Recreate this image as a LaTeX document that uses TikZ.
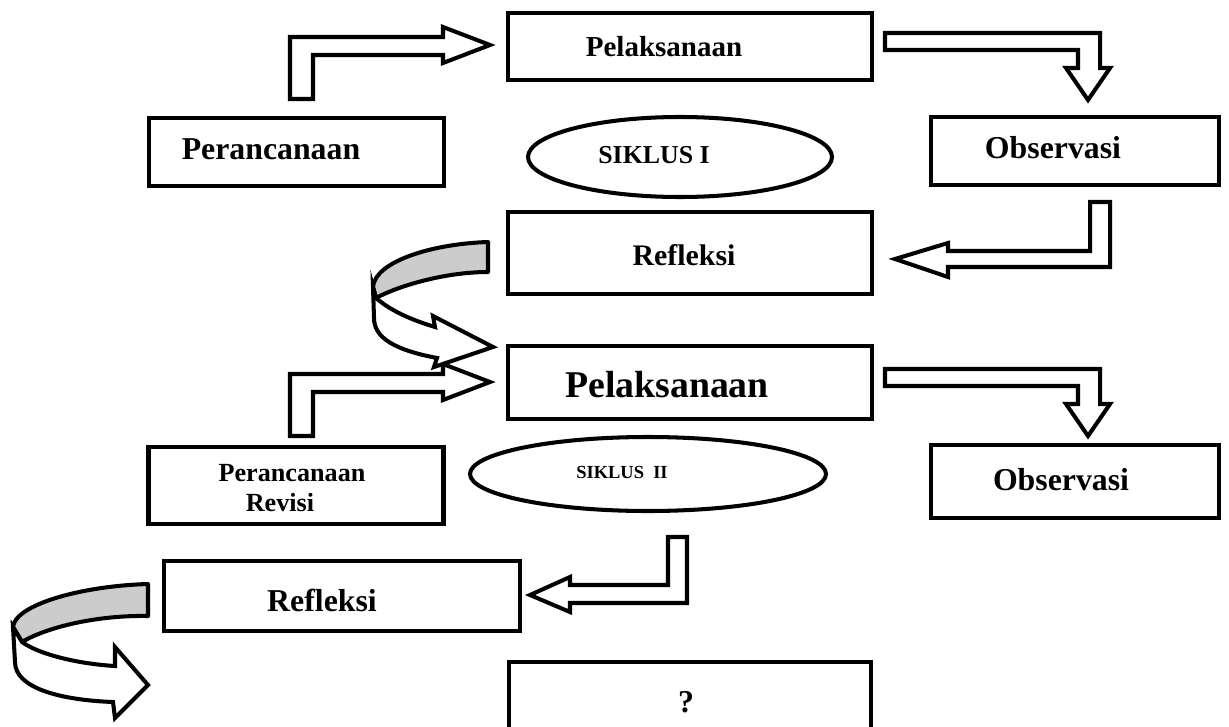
\documentclass[tikz,border=0pt]{standalone}
\usepackage{fontspec}
\setmainfont{Liberation Serif}
\usetikzlibrary{shapes.geometric}
\newcommand{\fsz}[1]{\fontsize{#1}{1.2\dimexpr#1\relax}\selectfont}
\tikzset{
  box/.style={draw, line width=2.8pt, fill=white, inner sep=0pt},
  oval/.style={draw, ellipse, line width=2.3pt, inner sep=0pt},
  lbl/.style={inner sep=0pt, anchor=base, font=\bfseries},
  blockarrow/.style={draw, line width=2.3pt, fill=white, line join=miter},
  backband/.style={draw, line width=2.3pt, fill=gray!40, line join=round},
  frontband/.style={draw, line width=2.3pt, fill=white, line join=miter}
}
\begin{document}
\begin{tikzpicture}[x=0.02cm, y=-0.02cm]
\useasboundingbox (0,0) rectangle (1229,726);

% boxes
\node[box, minimum width=364*0.02cm, minimum height=67*0.02cm] (pel1) at (690,46.5) {};
\node[box, minimum width=295*0.02cm, minimum height=68*0.02cm] (per1) at (296.5,152) {};
\node[box, minimum width=288*0.02cm, minimum height=68*0.02cm] (obs1) at (1075,151) {};
\node[box, minimum width=364*0.02cm, minimum height=82*0.02cm] (ref1) at (690,253) {};
\node[box, minimum width=364*0.02cm, minimum height=73*0.02cm] (pel2) at (690,382.5) {};
\node[box, minimum width=295*0.02cm, minimum height=77*0.02cm] (per2) at (296,485.5) {};
\node[box, minimum width=288*0.02cm, minimum height=73*0.02cm] (obs2) at (1075,481.5) {};
\node[box, minimum width=356*0.02cm, minimum height=70*0.02cm] (ref2) at (342,596) {};
\node[box, minimum width=362*0.02cm, minimum height=80*0.02cm] (q) at (690,702) {};

% ellipses
\node[oval, minimum width=304*0.02cm, minimum height=80*0.02cm] (sik1) at (680,157) {};
\node[oval, minimum width=356*0.02cm, minimum height=74*0.02cm] (sik2) at (648,474) {};

% labels
\node[lbl, font=\bfseries\fsz{16.5pt}] (tpel1) at (664,57) {Pelaksanaan};
\node[lbl, font=\bfseries\fsz{18.1pt}] (tper1) at (271,160) {Perancanaan};
\node[lbl, font=\bfseries\fsz{14.7pt}] (tsik1) at (654,164) {SIKLUS I};
\node[lbl, font=\bfseries\fsz{18.1pt}] (tobs1) at (1053,159) {Observasi};
\node[lbl, font=\bfseries\fsz{17pt}] (tref1) at (684,265) {Refleksi};
\node[lbl, font=\bfseries\fsz{21.5pt}] (tpel2) at (667,397) {Pelaksanaan};
\node[lbl, font=\bfseries\fsz{14.9pt}] (tper2a) at (292,481) {Perancanaan};
\node[lbl, font=\bfseries\fsz{14.9pt}] (tper2b) at (280,511) {Revisi};
\node[lbl, font=\bfseries\fsz{10.5pt}] (tsik2) at (622,478) {SIKLUS\ \ II};
\node[lbl, font=\bfseries\fsz{18.1pt}] (tobs2) at (1061,490) {Observasi};
\node[lbl, font=\bfseries\fsz{18.1pt}] (tref2) at (322,611) {Refleksi};
\node[lbl, font=\bfseries\fsz{18.1pt}] (tq) at (686,712) {?};

% block arrows
\draw[blockarrow] (290,99) -- (290,37) -- (443,37) -- (443,27) -- (490,45) -- (443,63) -- (443,55) -- (313,55) -- (313,99) -- cycle;
\draw[blockarrow] (885,33) -- (1100,33) -- (1100,68) -- (1110,68) -- (1088,100) -- (1066,68) -- (1078,68) -- (1078,50) -- (885,50) -- cycle;
\draw[blockarrow] (1110,202) -- (1110,267) -- (948,267) -- (948,277) -- (895,259) -- (948,243) -- (948,251) -- (1090,251) -- (1090,202) -- cycle;
\draw[blockarrow] (290,436) -- (290,374) -- (443,374) -- (443,364) -- (490,382) -- (443,400) -- (443,392) -- (313,392) -- (313,436) -- cycle;
\draw[blockarrow] (885,369) -- (1100,369) -- (1100,404) -- (1110,404) -- (1088,436) -- (1066,404) -- (1078,404) -- (1078,386) -- (885,386) -- cycle;
\draw[blockarrow] (687,537) -- (687,603) -- (570,603) -- (570,612) -- (530,595) -- (570,577) -- (570,585) -- (668,585) -- (668,537) -- cycle;

% curved arrow 1
\draw[backband] (488,242) .. controls (430,244) and (375,262) .. (373,287) -- (376,298) .. controls (398,286) and (445,272) .. (488,272) -- cycle;
\draw[frontband] (376,298) .. controls (392,312) and (415,321) .. (435,327) -- (433,316) -- (493,347) -- (434,367) -- (437,358) .. controls (395,350) and (374,338) .. (374,318) -- (373,287) -- cycle;

% curved arrow 2
\draw[backband] (148,584) .. controls (80,586) and (15,605) .. (13,627) -- (22,642) .. controls (45,628) and (95,615) .. (148,616) -- cycle;
\draw[frontband] (22,642) .. controls (40,655) and (80,664) .. (115,666) -- (115,647) -- (148,685) -- (115,718) -- (113,702) .. controls (60,700) and (15,688) .. (15,662) -- (13,627) -- cycle;
\end{tikzpicture}
\end{document}
